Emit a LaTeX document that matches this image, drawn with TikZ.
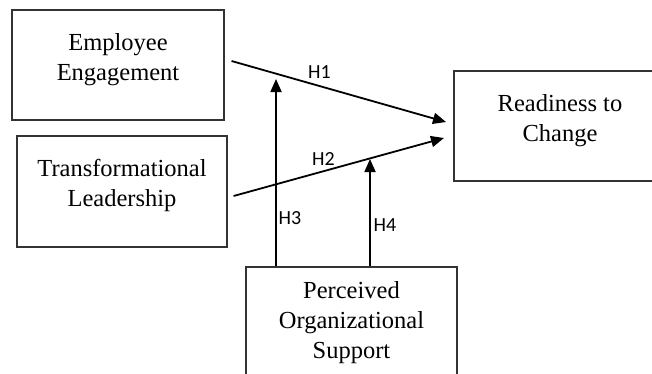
\documentclass[tikz,border=0pt]{standalone}
\usepackage{fontspec}
\setmainfont{Liberation Serif}
\newfontfamily\labfont{Carlito}
\usetikzlibrary{arrows.meta, positioning}

\tikzset{
  box/.style={draw=black!80, line width=1.1pt, align=center, inner sep=0pt,
    font=\fontsize{24.5}{30}\selectfont, text depth=17pt},
  arr/.style={line width=1.8pt, -{Triangle[length=13pt,width=11pt]}},
  lab/.style={font=\labfont\fontsize{20}{22}\selectfont, inner sep=0pt}
}

\begin{document}
\begin{tikzpicture}[x=1pt,y=-1pt]
				\useasboundingbox (0,0) rectangle (652,373);
				% constructs
				\node[box, minimum width=212pt, minimum height=110pt] (ee) at (118,65) {Employee\\Engagement};
				\node[box, minimum width=210pt, minimum height=111pt] (tl) at (122,191.5) {Transformational\\Leadership};
				\node[box, minimum width=212pt, minimum height=110pt] (rc) at (560,126) {Readiness to\\Change};
				\node[box, text depth=7pt, minimum width=211pt, minimum height=113pt] (pos) at (351.5,323.5) {Perceived\\Organizational\\Support};
				% arrow ends
				\coordinate (h1end) at (446,122);
				\coordinate (h2end) at (444,138);
				\coordinate (h3end) at (276,79);
				\coordinate (h4end) at (370,159);
				% paths
				\draw[arr] ([xshift=7pt,yshift=4pt]ee.east) -- (h1end);
				\draw[arr] ([xshift=6pt,yshift=-4.5pt]tl.east) -- (h2end);
				\draw[arr] ([xshift=-75.5pt]pos.north) -- (h3end);
				\draw[arr] ([xshift=18.5pt]pos.north) -- (h4end);
				% hypotheses
				\node[lab] (h1) at (319.5,72) {H1};
				\node[lab] (h2) at (323.5,159) {H2};
				\node[lab] (h3) at (290,218) {H3};
				\node[lab] (h4) at (385,225) {H4};
\end{tikzpicture}
\end{document}
